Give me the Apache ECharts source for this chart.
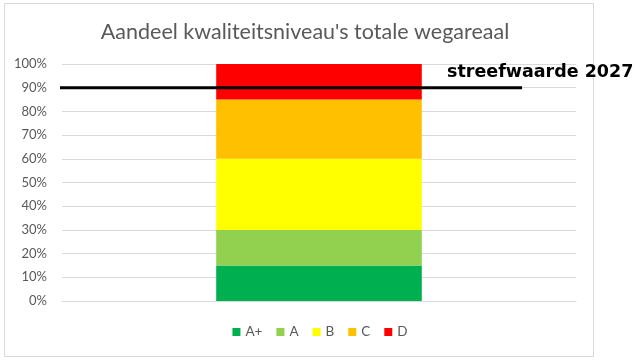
<!DOCTYPE html>
<html><head><meta charset="utf-8">
<script src="https://cdn.jsdelivr.net/npm/echarts@6/dist/echarts.min.js"></script>
<style>html,body{margin:0;padding:0;background:#fff}#c{width:640px;height:361px}</style>
</head><body><div id="c"></div>
<script>
const title = "Aandeel kwaliteitsniveau's totale wegareaal";
const categories = [""];
const seriesNames = ["A+", "A", "B", "C", "D"];
const seriesColors = ["#00b050", "#92d050", "#ffff00", "#ffc000", "#ff0000"];
const valuesAplus = [0.15];
const valuesA = [0.15];
const valuesB = [0.30];
const valuesC = [0.25];
const valuesD = [0.15];
const targetLabel = "streefwaarde 2027";
const targetValue = 0.9;
const targetXStart = -0.004;
const targetXEnd = 0.895;
const yTicks = [0, 0.1, 0.2, 0.3, 0.4, 0.5, 0.6, 0.7, 0.8, 0.9, 1.0];

const allValues = [valuesAplus, valuesA, valuesB, valuesC, valuesD];
const chart = echarts.init(document.getElementById('c'), null, {renderer: 'canvas'});
const bars = seriesNames.map((n, i) => ({
  name: n, type: 'bar', stack: 'total', data: allValues[i],
  barWidth: '40%', itemStyle: {color: seriesColors[i]}, xAxisIndex: 0, yAxisIndex: 0
}));
bars.push({
  name: 'target', type: 'line', xAxisIndex: 1, yAxisIndex: 0,
  data: [[targetXStart, targetValue], [targetXEnd, targetValue, 'end']],
  symbol: 'none', lineStyle: {color: '#000', width: 3}, silent: true, z: 10,
  label: {show: false}, legendHoverLink: false,
  endLabel: {show: true, formatter: targetLabel, fontFamily: 'DejaVu Sans', fontWeight: 'bold',
    fontSize: 17.5, color: '#000', offset: [-83, -15], align: 'left', verticalAlign: 'middle'}
});
chart.setOption({
  animation: false,
  title: {text: title, left: 300, textAlign: 'center', top: 16,
    textStyle: {fontFamily: 'Lato', fontWeight: 'normal', fontSize: 21.5, color: '#595959'}},
  legend: {data: seriesNames, bottom: 17, left: 'center', itemWidth: 8, itemHeight: 8, itemGap: 14,
    icon: 'rect', textStyle: {fontFamily: 'Lato', fontSize: 13.5, color: '#595959'}},
  grid: {left: 62, right: 64, top: 64, bottom: 60},
  xAxis: [
    {type: 'category', data: categories, axisLine: {show: true, lineStyle: {color: '#d9d9d9', width: 1}},
     axisTick: {show: false}, axisLabel: {show: false}},
    {type: 'value', min: 0, max: 1, show: false}
  ],
  yAxis: {type: 'value', min: 0, max: 1, interval: 0.1,
    axisLine: {show: false}, axisTick: {show: false},
    splitLine: {lineStyle: {color: '#d9d9d9', width: 1}},
    axisLabel: {formatter: v => Math.round(v * 100) + '%', fontFamily: 'Lato', fontSize: 13, color: '#595959', margin: 15}},
  graphic: [{type: 'rect', shape: {x: 4.5, y: 3.5, width: 589, height: 353},
    style: {fill: 'none', stroke: '#d9d9d9', lineWidth: 1}, z: -10}],
  series: bars
});
</script></body></html>
